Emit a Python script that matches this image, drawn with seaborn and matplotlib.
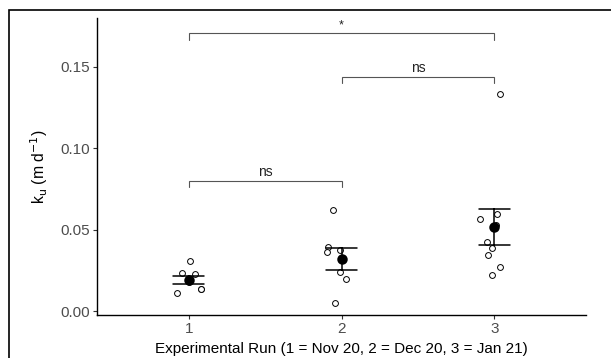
import numpy as np
import pandas as pd
import matplotlib
matplotlib.use("Agg")
import matplotlib.pyplot as plt
import seaborn as sns
from matplotlib.patches import Rectangle

# ---- data ----
run1 = [0.0307, 0.0227, 0.0235, 0.0178, 0.0137, 0.0137, 0.0112]
run2 = [0.0618, 0.0395, 0.0372, 0.0364, 0.0239, 0.0194, 0.0051]
run3 = [0.1331, 0.0595, 0.0562, 0.0526, 0.0423, 0.0387, 0.0344, 0.0270, 0.0221]
run_labels = ["1", "2", "3"]
yticks = [0.00, 0.05, 0.10, 0.15]
comparisons = [("1", "2", "ns", 0.0798), ("2", "3", "ns", 0.1437), ("1", "3", "*", 0.1705)]

df = pd.DataFrame({
    "run": ["1"] * len(run1) + ["2"] * len(run2) + ["3"] * len(run3),
    "ku": run1 + run2 + run3,
})

sns.set_theme(style="white")
plt.rcParams["font.family"] = ["Liberation Sans", "DejaVu Sans"]

fig = plt.figure(figsize=(6.11, 3.58), dpi=100)
ax = fig.add_axes([97 / 611, 1 - 315 / 358, (586 - 97) / 611, (315 - 18) / 358])

np.random.seed(3)
sns.stripplot(data=df, x="run", y="ku", order=run_labels, jitter=0.1,
              color="white", edgecolor="black", linewidth=0.7, size=4.2, ax=ax, zorder=3)
sns.pointplot(data=df, x="run", y="ku", order=run_labels, errorbar="se",
              capsize=0.2, color="black", linestyle="none", markersize=5.5,
              err_kws={"linewidth": 1.1}, ax=ax, zorder=4)

ax.set_xlim(-0.6, 2.6)
ax.set_ylim(-0.00245, 0.1798)
ax.set_yticks(yticks)
ax.set_yticklabels([f"{v:.2f}" for v in yticks])

for s in ["top", "right"]:
    ax.spines[s].set_visible(False)
for s in ["left", "bottom"]:
    ax.spines[s].set_color("black")
    ax.spines[s].set_linewidth(1.0)

ax.tick_params(axis="both", which="both", length=3, width=0.8, color="#333333",
               labelcolor="#4D4D4D", labelsize=11, pad=2, bottom=True, left=True)

ax.set_xlabel("Experimental Run (1 = Nov 20, 2 = Dec 20, 3 = Jan 21)", fontsize=11,
              color="black", labelpad=4)
ax.set_ylabel(r"k$_{\mathrm{u}}$ (m d$^{-1}$)", fontsize=11.3, color="black")
ax.yaxis.set_label_coords(-0.097, 0.5)

# significance brackets
pos = {lab: i for i, lab in enumerate(run_labels)}
tip = 0.004
for a, b, lab, h in comparisons:
    xa, xb = pos[a], pos[b]
    ax.plot([xa, xa, xb, xb], [h - tip, h, h, h - tip], color="#555555", lw=0.8,
            solid_joinstyle="miter")
    ax.text((xa + xb) / 2, h + 0.0012, lab, ha="center", va="bottom",
            fontsize=10 if lab == "ns" else 9, color="#222222")

# outer frame (clipped at right and bottom)
fig.patches.append(Rectangle((8.5 / 611, -0.1), 1.2, 1.1 - 10 / 358, transform=fig.transFigure,
                             fill=False, edgecolor="black", linewidth=1.2, zorder=10))

fig.savefig("out.png", dpi=100)
